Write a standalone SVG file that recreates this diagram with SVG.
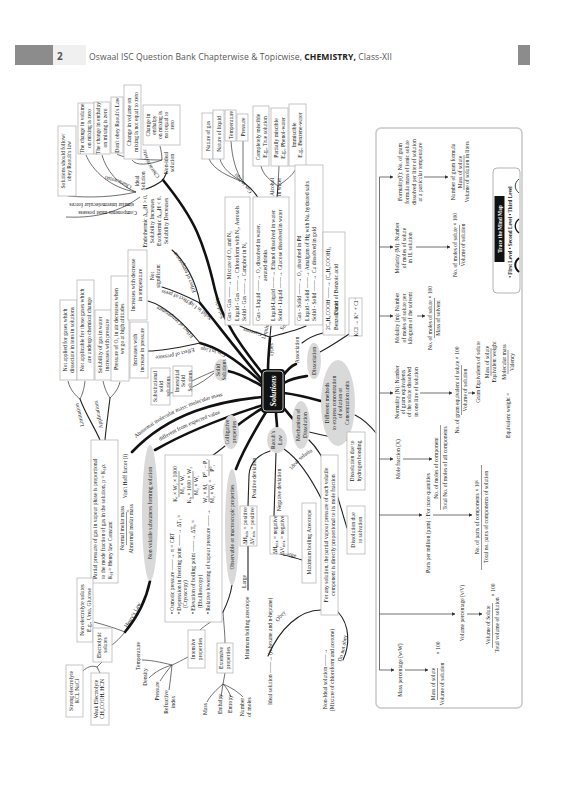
<svg xmlns="http://www.w3.org/2000/svg" width="585" height="800" viewBox="0 0 585 800">
<defs>
<style>
.t{font-family:"Liberation Serif","DejaVu Serif",serif;font-size:5.6px;fill:#1a1a1a;text-anchor:middle}
.s{text-anchor:start}
.lb{font-family:"Liberation Serif","DejaVu Serif",serif;font-size:5.6px;fill:#1a1a1a}
.bx{fill:#fff;stroke:#b8b8b8;stroke-width:0.8}
.el{fill:#d9d9d9}
.c1{fill:none;stroke:#111;stroke-width:2.6;stroke-linecap:round}
.c2{fill:none;stroke:#222;stroke-width:1.1;stroke-linecap:round}
.c3{fill:none;stroke:#333;stroke-width:0.7}
.ar{fill:none;stroke:#333;stroke-width:0.7;marker-end:url(#ah)}
.fb{stroke:#333;stroke-width:0.5}
.hd{font-family:"Open Sans","Noto Sans",sans-serif;fill:#555}
</style>
<marker id="ah" viewBox="0 0 6 6" refX="5.5" refY="3" markerWidth="5" markerHeight="5" orient="auto"><path d="M0,0 L6,3 L0,6 z" fill="#333"/></marker>
<path id="p-ab1" d="M136,438 C170,410 210,396 258,389"/>
<path id="p-ab2" d="M160,441 C190,423 222,412 256,403"/>
<path id="p-sol" d="M224,318 C218,300 215,285 212,268"/>
<path id="p-gas" d="M262,333 C255,331 248,329 238,327"/>
<path id="p-ch1" d="M132,186 C124,182 116,178 105,176"/>
<path id="p-ch2" d="M160,176 C152,168 148,160 146,150"/>
<path id="p-gil" d="M252,192 C248,186 243,180 236,173"/>
<path id="p-sil" d="M212,318 C206,312 200,308 192,302"/>
<path id="p-gl" d="M226,354 C218,350 210,348 200,347"/>
<path id="p-et1" d="M196,292 C190,275 184,262 176,252"/>
<path id="p-ep1" d="M192,302 C182,296 172,292 162,290"/>
<path id="p-et2" d="M194,336 C182,322 170,310 152,304"/>
<path id="p-ep2" d="M194,348 C180,352 168,356 152,356"/>
<path id="p-lim" d="M84,426 C82,418 80,410 78,402"/>
<path id="p-app" d="M103,428 C101,420 99,412 97,396"/>
<path id="p-hen" d="M127,628 C134,618 140,606 146,592"/>
<path id="p-obey" d="M278,622 C284,614 290,608 298,604"/>
<path id="p-dno" d="M341,662 C345,650 347,640 347,628"/>
<path id="p-lg1" d="M246,588 L246,570"/>
<path id="p-lg2" d="M283,556 C288,555 293,556 298,559"/>
<path id="p-ids" d="M292,470 C298,462 304,456 312,452"/>
</defs>

<rect width="585" height="800" fill="#fff"/>

<g id="header">
<rect x="15" y="45" width="38" height="20" fill="#8c8c8c"/>
<rect x="53" y="45" width="33" height="20" fill="#f0f0f0"/>
<text x="57" y="60" class="hd" font-size="10" font-weight="bold" fill="#333">2</text>
<text x="89" y="59.5" class="hd" font-size="8.6" textLength="303">Oswaal ISC Question Bank Chapterwise &amp; Topicwise, <tspan font-weight="bold" fill="#222">CHEMISTRY,</tspan> Class-XII</text>
<rect x="518" y="45" width="12" height="20" fill="#8c8c8c"/>
</g>

<g id="connectors">
<path class="c1" d="M263,374 C240,345 222,320 215,290 C210,268 205,250 197,232 C188,212 176,196 163,180"/>
<path class="c1" d="M268,370 C268,360 269,350 270,338"/>
<path class="c1" d="M283,376 C287,370 291,366 296,364"/>
<path class="c1" d="M284,383 C292,378 300,377 307,376"/>
<path class="c1" d="M284,393 C300,395 310,398 321,401"/>
<path class="c1" d="M283,407 C288,413 291,417 294,420"/>
<path class="c1" d="M276,412 C276,418 277,422 277,427"/>
<path class="c1" d="M263,408 C252,414 245,420 238,425"/>
<path class="c1" d="M266,412 C255,430 243,450 236,469"/>
<path class="c1" d="M262,397 C220,401 170,412 132,452"/>
<path class="c1" d="M263,405 C225,417 190,430 155,450"/>
<path class="c1" d="M262,386 C248,378 238,373 228,371"/>
<path class="c1" d="M262,380 C238,352 218,325 200,303"/>
<path class="c1" d="M262,383 C240,362 220,348 200,343"/>
<path class="c2" d="M270,337 C258,333 248,330 240,326"/>
<path class="c2" d="M270,337 L271,326"/>
<path class="c2" d="M270,337 C285,333 298,330 306,326"/>
<path class="c2" d="M258,198 C254,190 248,186 243,182"/>
<path class="c3" d="M243,182 C228,176 214,170 209,159"/>
<path class="c3" d="M243,182 C232,176 222,168 220,159"/>
<path class="c3" d="M243,182 C236,172 232,158 231,141"/>
<path class="c3" d="M243,182 C243,170 243,155 243,141"/>
<path class="c2" d="M277,198 L278,186"/>
<path class="c3" d="M278,186 C270,180 263,175 261,166"/>
<path class="c3" d="M278,186 L279,166"/>
<path class="c3" d="M278,186 C286,180 294,175 297,166"/>
<path class="c2" d="M163,180 C158,184 152,187 146,189"/>
<path class="c2" d="M163,180 L167,172"/>
<path class="c3" d="M136,192 C115,197 90,198 68,196"/>
<path class="c3" d="M136,192 C110,188 92,170 86,155"/>
<path class="c3" d="M136,192 C118,185 106,170 102,155"/>
<path class="c3" d="M140,197 C115,215 90,218 66,217"/>
<path class="c3" d="M162,160 C140,160 124,158 117,154"/>
<path class="c3" d="M162,160 C148,165 136,166 132,160"/>
<path class="c3" d="M162,160 C162,155 161,150 160,146"/>
<path class="c2" d="M200,303 C196,282 186,262 172,250"/>
<path class="c2" d="M200,303 C186,296 172,290 162,287"/>
<path class="c2" d="M200,343 C186,326 166,306 148,301"/>
<path class="c2" d="M200,343 C186,346 166,351 148,351"/>
<path class="c3" d="M214,371 C205,375 198,378 192,381"/>
<path class="c3" d="M214,373 C200,385 185,392 170,393"/>
<path class="c3" d="M68,381 C70,390 76,396 80,399"/>
<path class="c3" d="M85,381 C84,390 82,395 80,399"/>
<path class="c2" d="M80,399 C86,415 95,428 100,440"/>
<path class="c3" d="M103,381 C105,390 108,395 110,398"/>
<path class="c3" d="M120,382 C118,390 113,395 110,398"/>
<path class="c2" d="M110,398 C108,415 106,428 105,440"/>
<path class="c1" d="M150,581 C145,605 135,620 125,632"/>
<path class="c3" d="M125,632 C115,628 105,625 94,622"/>
<path class="c3" d="M125,632 C120,638 116,642 112,645"/>
<path class="c3" d="M102,662 L97,667"/>
<path class="c3" d="M97,667 C92,665 87,667 83,671"/>
<path class="c3" d="M97,667 L100,673"/>
<path class="c2" d="M225,446 C220,450 216,453 212,456"/>
<path class="c2" d="M232,585 C230,598 226,606 223,612"/>
<path class="c3" d="M223,612 C215,620 205,625 200,630"/>
<path class="c3" d="M223,612 C224,625 225,635 225,643"/>
<path class="c3" d="M188,657 C182,660 177,663 172,665"/>
<path class="c3" d="M172,665 C160,662 150,660 142,660"/>
<path class="c3" d="M172,665 C162,668 155,672 149,678"/>
<path class="c3" d="M172,665 C166,672 162,678 160,681"/>
<path class="c3" d="M172,665 C171,675 170,683 169,690"/>
<path class="c3" d="M225,673 L223,684"/>
<path class="c3" d="M223,684 C216,690 210,696 207,702"/>
<path class="c3" d="M223,684 L221,697"/>
<path class="c3" d="M223,684 C227,688 229,692 231,697"/>
<path class="c3" d="M223,684 C232,688 238,692 243,697"/>
<path class="c2" d="M270,451 C258,455 250,462 249,475 L248,506"/>
<path class="c2" d="M276,453 L274,516"/>
<path class="c2" d="M284,449 C300,460 312,480 322,500"/>
<path class="c2" d="M248,546 L248,590"/>
<path class="c2" d="M280,554 C288,556 296,558 302,560"/>
<path class="c2" d="M321,610 C300,610 280,628 268,656"/>
<path class="c2" d="M338,612 C350,625 350,645 343,660"/>
<path class="c2" d="M309,432 C325,436 338,438 347,440"/>
<path class="c2" d="M309,440 C330,460 338,500 347,528"/>
<path class="c2" d="M302,343 C308,338 315,335 323,333"/>
<path class="c2" d="M320,352 C333,345 343,338 349,334"/>
<path class="c2" d="M355,415 C365,420 372,428 376,433"/>
<line class="c3" x1="379.5" y1="177" x2="379.5" y2="670"/>
<path class="ar" d="M379.5,177 H393"/><path class="ar" d="M424,177 H448"/>
<path class="ar" d="M379.5,247 H393"/><path class="ar" d="M416,247 H450"/>
<path class="ar" d="M379.5,316 H393"/><path class="ar" d="M417,316 H425"/>
<path class="ar" d="M379.5,393 H393"/><path class="ar" d="M420,393 H452"/><path class="ar" d="M468,393 H475"/>
<path class="ar" d="M379.5,459 H393"/><path class="ar" d="M403,459 H432"/>
<path class="ar" d="M379.5,515 H422"/><path class="ar" d="M433,515 H472"/>
<path class="ar" d="M379.5,614 H455"/><path class="ar" d="M467,614 H482"/>
<path class="ar" d="M379.5,670 H394"/><path class="ar" d="M405,670 H428"/>
</g>

<g id="labels">
<text class="lb" font-size="6.2"><textPath href="#p-ab1">Abnormal molecular mass: molecular mass</textPath></text>
<text class="lb" font-size="6.2"><textPath href="#p-ab2">different from expected value</textPath></text>
<text class="lb" font-size="6"><textPath href="#p-sol">Solubility</textPath></text>
<text class="lb"><textPath href="#p-gas">Gaseous</textPath></text>
<text class="t" transform="translate(267,332) rotate(-75)">Liquid</text>
<text class="t" transform="translate(286,326) rotate(-55)">Solid</text>
<text class="t" transform="translate(273,350) rotate(-90)">Types</text>
<text class="lb"><textPath href="#p-ch1">Characteristics</textPath></text>
<text class="lb"><textPath href="#p-ch2">Characteristics</textPath></text>
<text class="lb"><textPath href="#p-gil">Gas in liquid</textPath></text>
<text class="t" transform="translate(274,187) rotate(-90)"><tspan x="0">Alcohol</tspan><tspan x="0" dy="7">in water</tspan></text>
<text class="lb"><textPath href="#p-sil">Solid in Liquid</textPath></text>
<text class="lb"><textPath href="#p-gl">Gas in Liquid</textPath></text>
<text class="lb"><textPath href="#p-et1">Effect of temperature</textPath></text>
<text class="lb"><textPath href="#p-ep1">Effect of pressure</textPath></text>
<text class="lb"><textPath href="#p-et2">Effect of temperature</textPath></text>
<text class="lb"><textPath href="#p-ep2">Effect of pressure</textPath></text>
<text class="lb"><textPath href="#p-lim">Limitations</textPath></text>
<text class="lb"><textPath href="#p-app">Applications</textPath></text>
<text class="lb" font-size="6"><textPath href="#p-hen">Henry's Law</textPath></text>
<text class="lb"><textPath href="#p-obey">Obey</textPath></text>
<text class="lb"><textPath href="#p-dno">Do not obey</textPath></text>
<text class="lb"><textPath href="#p-lg1">Large</textPath></text>
<text class="lb"><textPath href="#p-lg2">Large</textPath></text>
<text class="lb"><textPath href="#p-ids">Ideal solutions</textPath></text>
<text class="t" transform="translate(256,478) rotate(-90)">Positive deviation</text>
<text class="t" transform="translate(281,490) rotate(-90)">Negative deviation</text>
<text class="t s" transform="translate(137,211) rotate(180)">Components must possess</text>
<text class="t s" transform="translate(134,203) rotate(180)">similar intermolecular forces</text>
</g>

<g id="n-solutions">
<rect x="261" y="369" width="24" height="44" rx="4" fill="#111"/>
<rect x="263" y="371" width="20" height="40" rx="3" fill="none" stroke="#fff" stroke-width="0.7"/>
<text class="t" transform="translate(276,391) rotate(-90)" style="font-size:8px;font-weight:bold;font-style:italic;fill:#fff">Solutions</text>
</g>

<g id="n-follow"><rect class="bx" x="58" y="126" width="18" height="70"/><text class="t" transform="translate(64.5,161) rotate(-90)"><tspan x="0">Solutions should follow/</tspan><tspan x="0" dy="6.6">obey Raoult's law</tspan></text></g>
<g id="n-vol0"><rect class="bx" x="78" y="103" width="16" height="51"/><text class="t" transform="translate(84,128.5) rotate(-90)"><tspan x="0">The change in volume</tspan><tspan x="0" dy="6.6">on mixing is zero</tspan></text></g>
<g id="n-enth0"><rect class="bx" x="94" y="102" width="16" height="52"/><text class="t" transform="translate(100,128) rotate(-90)"><tspan x="0">The change in enthalpy</tspan><tspan x="0" dy="6.6">on mixing is zero</tspan></text></g>
<g id="n-dont"><rect class="bx" x="111" y="97" width="12" height="56"/><text class="t" transform="translate(119,125) rotate(-90)">Don't obey Raoult's Law</text></g>
<g id="n-volnz"><rect class="bx" x="124" y="85" width="17" height="74"/><text class="t" transform="translate(131,122) rotate(-90)"><tspan x="0">Change in volume on</tspan><tspan x="0" dy="6.6">mixing is not equal to zero</tspan></text></g>
<g id="n-enthnz"><rect class="bx" x="143" y="105" width="37" height="40"/><text class="t" transform="translate(150,125) rotate(-90)"><tspan x="0">Change in</tspan><tspan x="0" dy="6.1">enthalpy</tspan><tspan x="0" dy="6.1">on mixing is</tspan><tspan x="0" dy="6.1">not equal to</tspan><tspan x="0" dy="6.1">zero</tspan></text></g>
<g id="n-ideal"><text class="t" transform="translate(139,181) rotate(-90)"><tspan x="0">Ideal</tspan><tspan x="0" dy="6.2">Solution</tspan></text></g>
<g id="n-nonideal"><text class="t" transform="translate(168,163) rotate(-90)"><tspan x="0">Non-ideal</tspan><tspan x="0" dy="6.2">solution</tspan></text></g>

<g id="n-natgas"><rect class="bx" x="202" y="113" width="11" height="46"/><text class="t" transform="translate(209.5,136) rotate(-90)">Nature of gas</text></g>
<g id="n-natliq"><rect class="bx" x="213" y="110" width="11" height="49"/><text class="t" transform="translate(220.5,134) rotate(-90)">Nature of liquid</text></g>
<g id="n-temp"><rect class="bx" x="225" y="110" width="11" height="31"/><text class="t" transform="translate(232.5,125) rotate(-90)">Temperature</text></g>
<g id="n-press"><rect class="bx" x="237" y="114" width="11" height="27"/><text class="t" transform="translate(244.5,127) rotate(-90)">Pressure</text></g>
<g id="n-compl"><rect class="bx" x="253" y="106" width="16" height="60"/><text class="t" transform="translate(260,137) rotate(-90)"><tspan x="0">Completely miscible</tspan><tspan x="0" dy="6.6">E.g., True solution</tspan></text></g>
<g id="n-partial"><rect class="bx" x="271" y="108" width="17" height="58"/><text class="t" transform="translate(278,138) rotate(-90)"><tspan x="0">Partially miscible</tspan><tspan x="0" dy="6.6">E.g., Phenol-water</tspan></text></g>
<g id="n-immis"><rect class="bx" x="289" y="104" width="17" height="62"/><text class="t" transform="translate(295.5,135) rotate(-90)"><tspan x="0">Immiscible</tspan><tspan x="0" dy="6.6">E.g., Benzene-water</tspan></text></g>

<g id="n-gaseous"><rect class="bx" x="225" y="197" width="25" height="128"/><text class="t s" transform="translate(231,321) rotate(-90)"><tspan x="0">Gas - Gas ——→ Mixture of O₂ and N₂</tspan><tspan x="0" dy="7.5">Liquid - Gas ——→ Chloroform with N₂, Aerosols</tspan><tspan x="0" dy="7.5">Solid - Gas ——→ Camphor in N₂</tspan></text></g>
<g id="n-liquid"><rect class="bx" x="253" y="197" width="36" height="128"/><text class="t s" transform="translate(260,321) rotate(-90)"><tspan x="0">Gas - Liquid ——→ O₂ dissolved in water,</tspan><tspan x="40" dy="7">aerated drinks</tspan><tspan x="0" dy="8">Liquid-Liquid ——→ Ethanol dissolved in water</tspan><tspan x="0" dy="7">Solid - Liquid ——→ Glucose dissolved in water</tspan></text></g>
<g id="n-solid"><rect class="bx" x="295" y="165" width="28" height="160"/><text class="t s" transform="translate(301,321) rotate(-90)"><tspan x="0">Gas - Solid ——→ O₂ absorbed in Pd</tspan><tspan x="0" dy="7.5">Liquid - Solid ——→ Amalgam of Hg with Na, hydrated salts</tspan><tspan x="0" dy="7.5">Solid - Solid ——→ Cu dissolved in gold</tspan></text></g>

<g id="n-assoc"><text class="t" transform="translate(299,350) rotate(-90)">Association</text></g>
<g id="n-dissoc"><ellipse class="el" cx="314" cy="361" rx="7" ry="18"/><text class="t" transform="translate(316,361) rotate(-90)">Dissociation</text></g>
<g id="n-benzoic"><rect class="bx" x="323" y="232" width="22" height="103"/><text class="t s" transform="translate(330,330) rotate(-90)"><tspan x="0">2C₆H₅COOH ——→ (C₆H₅COOH)₂</tspan><tspan x="0" dy="8">Benzoic acid</tspan><tspan x="15" dy="0">Dimer of Benzoic acid</tspan></text></g>
<g id="n-kcl"><rect class="bx" x="349" y="298" width="13" height="38"/><text class="t" transform="translate(357.5,317) rotate(-90)">KCl → K⁺ + Cl⁻</text></g>
<g id="n-methods"><ellipse class="el" cx="338" cy="403" rx="17" ry="43"/><text class="t" transform="translate(329,403) rotate(-90)"><tspan x="0">Different methods</tspan><tspan x="0" dy="6.6">to express concentration</tspan><tspan x="0" dy="6.6">of solution or</tspan><tspan x="0" dy="6.6">Concentration units</tspan></text></g>
<g id="n-mech"><ellipse class="el" cx="301" cy="425" rx="9" ry="24"/><text class="t" transform="translate(300,425) rotate(-90)"><tspan x="0">Mechanism of</tspan><tspan x="0" dy="6.6">Dissolution</tspan></text></g>
<g id="n-hbond"><rect class="bx" x="347" y="432" width="18" height="58"/><text class="t" transform="translate(354,461) rotate(-90)"><tspan x="0">Dissolution due to</tspan><tspan x="0" dy="6.6">hydrogen bonding</tspan></text></g>
<g id="n-solv"><rect class="bx" x="347" y="506" width="18" height="48"/><text class="t" transform="translate(355,530) rotate(-90)"><tspan x="0">Dissolution due</tspan><tspan x="0" dy="6.6">to solvation</tspan></text></g>

<g id="n-raoult"><ellipse class="el" cx="277" cy="440" rx="10" ry="13"/><text class="t" transform="translate(275,440) rotate(-90)"><tspan x="0">Raoult's</tspan><tspan x="0" dy="6.6">Law</tspan></text></g>
<g id="n-dhpos"><rect class="bx" x="240" y="506" width="17" height="40"/><text class="t" transform="translate(247,526) rotate(-90)"><tspan x="0">ΔH<tspan font-size="4" dy="1">mix</tspan><tspan dy="-1"> = positive</tspan></tspan><tspan x="0" dy="6.6">ΔV<tspan font-size="4" dy="1">mix</tspan><tspan dy="-1"> = positive</tspan></tspan></text></g>
<g id="n-dhneg"><rect class="bx" x="270" y="516" width="18" height="38"/><text class="t" transform="translate(277,535) rotate(-90)"><tspan x="0">ΔH<tspan font-size="4" dy="1">mix</tspan><tspan dy="-1"> = negative</tspan></tspan><tspan x="0" dy="6.6">ΔV<tspan font-size="4" dy="1">mix</tspan><tspan dy="-1"> = negative</tspan></tspan></text></g>
<g id="n-minaz"><text class="t" transform="translate(249,628) rotate(-90)">Minimum boiling azeotrope</text></g>
<g id="n-maxaz"><rect class="bx" x="302" y="503" width="14" height="80"/><text class="t" transform="translate(311,542) rotate(-90)">Maximum boiling Azeotrope</text></g>
<g id="n-forany"><rect class="bx" x="321" y="455" width="17" height="160"/><text class="t" transform="translate(328,535) rotate(-90)"><tspan x="0">For any solution, the partial vapour pressure of each volatile</tspan><tspan x="0" dy="6.6">component is directly proportional to its mole fraction</tspan></text></g>
<g id="n-idealsol"><text class="t s" transform="translate(272,705) rotate(-90)">Ideal solution ——→ (n-hexane and n-heptane)</text></g>
<g id="n-nonidealsol"><text class="t" transform="translate(327,679) rotate(-90)">Non-Ideal solution ——→</text><text class="t" transform="translate(334,670) rotate(-90)">(Mixture of chloroform and acetone)</text></g>

<g id="n-colligative"><ellipse class="el" cx="231" cy="432" rx="8" ry="17"/><text class="t" transform="translate(229,432) rotate(-90)"><tspan x="0">Colligative</tspan><tspan x="0" dy="6.6">properties</tspan></text></g>
<g id="n-observable"><ellipse class="el" cx="232" cy="527" rx="7" ry="58"/><text class="t" transform="translate(234,527) rotate(-90)">Observable or macroscopic properties</text></g>
<g id="n-intensive"><rect class="bx" x="188" y="630" width="17" height="38"/><text class="t" transform="translate(195,649) rotate(-90)"><tspan x="0">Intensive</tspan><tspan x="0" dy="6.6">properties</tspan></text></g>
<g id="n-extensive"><rect class="bx" x="217" y="643" width="16" height="30"/><text class="t" transform="translate(223,658) rotate(-90)"><tspan x="0">Extensive</tspan><tspan x="0" dy="6.6">properties</tspan></text></g>
<g id="n-int-words"><text class="t" transform="translate(140,656) rotate(-90)">Temperature</text><text class="t" transform="translate(147,677) rotate(-90)">Density</text><text class="t" transform="translate(159,691) rotate(-90)">Pressure</text><text class="t" transform="translate(168,702) rotate(-90)"><tspan x="0">Refractive</tspan><tspan x="0" dy="6.6">index</tspan></text></g>
<g id="n-ext-words"><text class="t" transform="translate(207,709) rotate(-90)">Mass</text><text class="t" transform="translate(222,704) rotate(-90)">Enthalpy</text><text class="t" transform="translate(232,704) rotate(-90)">Entropy</text><text class="t" transform="translate(244,707) rotate(-90)"><tspan x="0">Number</tspan><tspan x="0" dy="6.6">of moles</tspan></text></g>

<g id="n-collbox"><rect class="bx" x="165" y="455" width="57" height="167"/>
<text class="t s" transform="translate(174,614) rotate(-90)">• Osmotic pressure ——→ π = CRT</text>
<text class="t s" transform="translate(180.5,614) rotate(-90)">• Depression in freezing point ——→ ΔT<tspan font-size="4" dy="1">f</tspan><tspan dy="-1"> =</tspan></text>
<text class="t s" transform="translate(187,608) rotate(-90)">(Cryoscopy)</text>
<text class="t s" transform="translate(195,614) rotate(-90)">• Elevation of boiling point ——→ ΔT<tspan font-size="4" dy="1">b</tspan><tspan dy="-1"> =</tspan></text>
<text class="t s" transform="translate(201.5,608) rotate(-90)">(Ebullioscopy)</text>
<text class="t s" transform="translate(210,614) rotate(-90)">• Relative lowering of vapour pressure ——→</text>
<text class="t" transform="translate(177,484) rotate(-90)">K<tspan font-size="4" dy="1">f</tspan><tspan dy="-1"> × W₂ × 1000</tspan></text>
<line class="fb" x1="179" y1="471" x2="179" y2="497"/>
<text class="t" transform="translate(184,484) rotate(-90)">M₂ × W₁</text>
<text class="t" transform="translate(191,485) rotate(-90)">K<tspan font-size="4" dy="1">b</tspan><tspan dy="-1"> × 1000 × W₂</tspan></text>
<line class="fb" x1="193" y1="471" x2="193" y2="499"/>
<text class="t" transform="translate(198,485) rotate(-90)">M₂ × W₁</text>
<text class="t" transform="translate(207,493) rotate(-90)">W₂ × M₁</text>
<line class="fb" x1="209" y1="485" x2="209" y2="502"/>
<text class="t" transform="translate(214,493) rotate(-90)">M₂ × W₁</text>
<text class="t" transform="translate(212,481) rotate(-90)">=</text>
<text class="t" transform="translate(207,468) rotate(-90)">P°₁ − P₁</text>
<line class="fb" x1="209" y1="460" x2="209" y2="476"/>
<text class="t" transform="translate(214,468) rotate(-90)">P°₁</text>
</g>

<g id="n-vanthoff"><text class="t" transform="translate(127,476) rotate(-90)">Van't Hoff factor (i)</text><text class="t" transform="translate(129.5,511) rotate(-90)">=</text><text class="t" transform="translate(124,528) rotate(-90)">Normal molar mass</text><line class="fb" x1="126.5" y1="512" x2="126.5" y2="545"/><text class="t" transform="translate(133,529) rotate(-90)">Abnormal molar mass</text></g>
<g id="n-nonvol"><ellipse class="el" cx="150" cy="513" rx="8" ry="68"/><text class="t" transform="translate(152,513) rotate(-90)">Non volatile substances forming solution</text></g>
<g id="n-henrybox"><rect class="bx" x="91" y="440" width="27" height="143"/><text class="t s" transform="translate(97,579) rotate(-90)"><tspan x="0">Partial pressure of gas in vapour phase is proportional</tspan><tspan x="0" dy="7.5">to the mode fraction of gas in the solution, p = K<tspan font-size="4" dy="1">H</tspan><tspan dy="-1">x</tspan></tspan><tspan x="0" dy="7.5">K<tspan font-size="4" dy="1">H</tspan><tspan dy="-1"> = Henry law Constant</tspan></tspan></text></g>
<g id="n-nonelec"><rect class="bx" x="77" y="578" width="16" height="64"/><text class="t" transform="translate(84,610) rotate(-90)"><tspan x="0">Non electrolyte solutes</tspan><tspan x="0" dy="6.6">E.g., Urea, Glucose</tspan></text></g>
<g id="n-elec"><rect class="bx" x="93" y="628" width="19" height="34"/><text class="t" transform="translate(100.5,645) rotate(-90)"><tspan x="0">Electrolytic</tspan><tspan x="0" dy="6.6">solutes</tspan></text></g>
<g id="n-strong"><rect class="bx" x="66" y="665" width="17" height="52"/><text class="t" transform="translate(72.5,691) rotate(-90)"><tspan x="0">Strong electrolyte</tspan><tspan x="0" dy="6.6">KCl, NaCl</tspan></text></g>
<g id="n-weak"><rect class="bx" x="91" y="673" width="18" height="52"/><text class="t" transform="translate(97.5,699) rotate(-90)"><tspan x="0">Weak Electrolyte</tspan><tspan x="0" dy="6.6">CH₃COOH, HCN</tspan></text></g>

<g id="n-h1"><rect class="bx" x="60" y="300" width="17" height="80"/><text class="t" transform="translate(67,340) rotate(-90)"><tspan x="0">Not applied for gases which</tspan><tspan x="0" dy="6.6">dissociate in ions in solutions</tspan></text></g>
<g id="n-h2"><rect class="bx" x="77" y="280" width="17" height="100"/><text class="t" transform="translate(84,330) rotate(-90)"><tspan x="0">Not applicable for those gases which</tspan><tspan x="0" dy="6.6">are undergo chemical change</tspan></text></g>
<g id="n-h3"><rect class="bx" x="95" y="310" width="17" height="70"/><text class="t" transform="translate(102,345) rotate(-90)"><tspan x="0">Solubility of gas in water</tspan><tspan x="0" dy="6.6">increases with pressure</tspan></text></g>
<g id="n-h4"><rect class="bx" x="111" y="276" width="18" height="105"/><text class="t" transform="translate(117.5,329) rotate(-90)"><tspan x="0">Pressure of O₂ in air decreases when</tspan><tspan x="0" dy="6.6">we go at high altitudes</tspan></text></g>

<g id="n-incdec"><rect class="bx" x="128" y="250" width="19" height="70"/><text class="t" transform="translate(135,285) rotate(-90)"><tspan x="0">Increases with decrease</tspan><tspan x="0" dy="6.6">in temperature</tspan></text></g>
<g id="n-incinc"><rect class="bx" x="130" y="322" width="18" height="56"/><text class="t" transform="translate(137,350) rotate(-90)"><tspan x="0">Increases with</tspan><tspan x="0" dy="6.6">increase in pressure</tspan></text></g>
<g id="n-notsig"><text class="t" transform="translate(154,276) rotate(-90)"><tspan x="0">Not</tspan><tspan x="0" dy="6.4">significant</tspan></text></g>
<g id="n-endo"><text class="t" transform="translate(147,221) rotate(-90)"><tspan x="0">Endothermic Δ<tspan font-size="4" dy="1">sol</tspan><tspan dy="-1">H &gt; 0,</tspan></tspan><tspan x="0" dy="7">Solubility Increases</tspan><tspan x="0" dy="7">Exothermic Δ<tspan font-size="4" dy="1">sol</tspan><tspan dy="-1">H &lt; 0,</tspan></tspan><tspan x="0" dy="7">Solubility Decreases</tspan></text></g>
<g id="n-solidsol"><ellipse class="el" cx="221" cy="370" rx="7" ry="11"/><text class="t" transform="translate(220,370) rotate(-90)"><tspan x="0">Solid</tspan><tspan x="0" dy="6">Solutions</tspan></text></g>
<g id="n-subst"><rect class="bx" x="151" y="368" width="19" height="37"/><text class="t" transform="translate(157,386.5) rotate(-90)"><tspan x="0">Substitutional</tspan><tspan x="0" dy="6.4">solid</tspan><tspan x="0" dy="6.4">solutions</tspan></text></g>
<g id="n-inter"><rect class="bx" x="173" y="366" width="19" height="30"/><text class="t" transform="translate(179,381) rotate(-90)"><tspan x="0">Interstitial</tspan><tspan x="0" dy="6.4">Solid</tspan><tspan x="0" dy="6.4">Solutions</tspan></text></g>

<g id="n-concbox">
<rect x="376" y="128" width="146" height="580" rx="5" fill="none" stroke="#c8c8c8" stroke-width="1.5"/>
<text class="t" transform="translate(402,172) rotate(-90)"><tspan x="0">Formality(f): No. of gram</tspan><tspan x="0" dy="6.8">formula mass of ionic solute</tspan><tspan x="0" dy="6.8">dissolved per liter of solution</tspan><tspan x="0" dy="6.8">at a particular temperature</tspan></text>
<text class="t" transform="translate(455,172) rotate(-90)"><tspan x="0">Number of gram formula</tspan><tspan x="0" dy="6.8">Mass of solute</tspan><tspan x="0" dy="7.5">Volume of solution in liters</tspan></text>
<line class="fb" x1="464" y1="155" x2="464" y2="190"/>
<text class="t" transform="translate(399,248) rotate(-90)"><tspan x="0">Molarity (M): Number</tspan><tspan x="0" dy="6.6">of moles of solute</tspan><tspan x="0" dy="6.6">in 1L solution</tspan></text>
<text class="t" transform="translate(457,245) rotate(-90)">No. of moles of solute × 100</text>
<line class="fb" x1="459.5" y1="225" x2="459.5" y2="265"/>
<text class="t" transform="translate(465,245) rotate(-90)">Volume of solution</text>
<text class="t" transform="translate(399,318) rotate(-90)"><tspan x="0">Molality (m): Number</tspan><tspan x="0" dy="6.6">of moles of solute per</tspan><tspan x="0" dy="6.6">kilogram of the solvent</tspan></text>
<text class="t" transform="translate(432,318) rotate(-90)">No. of moles of solute × 100</text>
<line class="fb" x1="434.5" y1="298" x2="434.5" y2="338"/>
<text class="t" transform="translate(440,318) rotate(-90)">Mass of solvent</text>
<text class="t" transform="translate(399,392) rotate(-90)"><tspan x="0">Normality (N): Number</tspan><tspan x="0" dy="6.2">of gram equivalents</tspan><tspan x="0" dy="6.2">of the solute dissolved</tspan><tspan x="0" dy="6.2">in one litre of solution</tspan></text>
<text class="t" transform="translate(459,390) rotate(-90)">No. of gram equivalent of solute × 100</text>
<line class="fb" x1="461.5" y1="365" x2="461.5" y2="415"/>
<text class="t" transform="translate(467,390) rotate(-90)">Volume of solution</text>
<text class="t" transform="translate(480,372) rotate(-90)">Gram Equivalents of solute</text>
<text class="t" transform="translate(489,362) rotate(-90)">Mass of solute</text>
<line class="fb" x1="491" y1="348" x2="491" y2="376"/>
<text class="t" transform="translate(496,362) rotate(-90)">Equivalent weight</text>
<text class="t s" transform="translate(510,438) rotate(-90)">Equivalent weight =</text>
<text class="t" transform="translate(506,362) rotate(-90)">Molecular mass</text>
<line class="fb" x1="508" y1="350" x2="508" y2="374"/>
<text class="t" transform="translate(514,362) rotate(-90)">Valency</text>
<text class="t" transform="translate(400,459) rotate(-90)">Mole fraction (X)</text>
<text class="t" transform="translate(438,468) rotate(-90)">No. of moles of component</text>
<line class="fb" x1="440.5" y1="425" x2="440.5" y2="510"/>
<text class="t" transform="translate(447,468) rotate(-90)">Total No. of moles of all components</text>
<text class="t" transform="translate(430,523) rotate(-90)">Parts per million (ppm) : For trace quantities</text>
<text class="t" transform="translate(479,517) rotate(-90)">No. of parts of components × 10⁶</text>
<line class="fb" x1="481.5" y1="465" x2="481.5" y2="570"/>
<text class="t" transform="translate(488,517) rotate(-90)">Total no. parts of components of solution</text>
<text class="t" transform="translate(464,613) rotate(-90)">Volume percentage (v/V)</text>
<text class="t" transform="translate(490,625) rotate(-90)">Volume of Solute</text>
<line class="fb" x1="492.5" y1="603" x2="492.5" y2="648"/>
<text class="t" transform="translate(499,625) rotate(-90)">Total volume of solution</text>
<text class="t" transform="translate(495,590) rotate(-90)">× 100</text>
<text class="t" transform="translate(402,670) rotate(-90)">Mass percentage (w/W)</text>
<text class="t" transform="translate(435,684) rotate(-90)">Mass of solute</text>
<line class="fb" x1="437.5" y1="668" x2="437.5" y2="700"/>
<text class="t" transform="translate(444,684) rotate(-90)">Volume of solution</text>
<text class="t" transform="translate(440,648) rotate(-90)">× 100</text>
</g>

<g id="n-legend">
<rect x="493" y="168" width="27" height="125" rx="4" fill="#fff" stroke="#aaa" stroke-width="0.9"/>
<rect x="494.5" y="196" width="10" height="66" fill="#111"/>
<text class="t" transform="translate(501.5,229) rotate(-90)" style="fill:#fff;font-weight:bold;font-size:5.4px">Trace the Mind Map</text>
<text class="t" transform="translate(512,232) rotate(-90)" style="font-weight:bold;font-size:5.2px">• First Level    • Second Level    • Third Level</text>
<path d="M519,272 C514,268 514,262 519,258" fill="none" stroke="#111" stroke-width="2"/>
<path d="M519,233 C514,229 514,223 519,219" fill="none" stroke="#111" stroke-width="1.3"/>
<path d="M519,193 C514,189 514,183 519,179" fill="none" stroke="#111" stroke-width="0.8"/>
</g>
</svg>
